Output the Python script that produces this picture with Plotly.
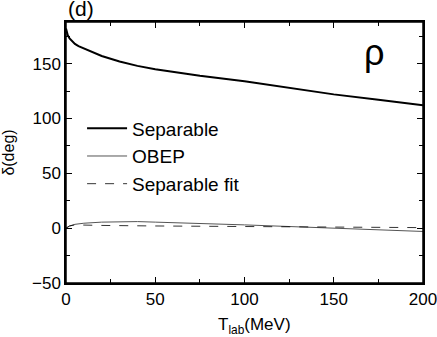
import plotly.graph_objects as go

# Separable (thick black)
t_sep = [0, 0.5, 1, 2, 3, 5, 7, 10, 15, 20, 30, 40, 50, 75, 100, 125, 150, 175, 200]
d_sep = [182, 178, 176, 173, 171, 168, 166, 164, 160, 157, 152, 148, 145, 139, 134, 128, 122, 117, 112]

# OBEP (thin gray)
t_obep = [0, 2, 5, 10, 20, 30, 40, 50, 75, 100, 125, 150, 175, 200]
d_obep = [0, 2, 3.5, 4.5, 5.5, 6, 6, 5.5, 4.5, 3, 1.5, 0, -1.5, -3]

# Separable fit (dashed)
t_fit = [0, 2, 5, 10, 20, 50, 100, 150, 200]
d_fit = [0, 2, 3, 3, 2.5, 2, 1.5, 1, 0.5]

fig = go.Figure()
fig.add_trace(go.Scatter(x=t_sep, y=d_sep, mode="lines", name="Separable",
                         line=dict(color="black", width=2)))
fig.add_trace(go.Scatter(x=t_obep, y=d_obep, mode="lines", name="OBEP",
                         line=dict(color="#555555", width=1)))
fig.add_trace(go.Scatter(x=t_fit, y=d_fit, mode="lines", name="Separable fit",
                         line=dict(color="black", width=0.8, dash="dash")))

axis_common = dict(
    showline=True, linecolor="black", linewidth=1.5, mirror="ticks",
    ticks="inside", ticklen=6, tickwidth=1, tickcolor="black",
    showgrid=False, zeroline=False, automargin=False,
    ticklabeloverflow="allow",
    tickfont=dict(size=17, color="black"),
)

fig.update_xaxes(range=[0, 200], dtick=50,
                 minor=dict(ticks="inside", ticklen=4, dtick=25, tickcolor="black"),
                 **axis_common)
fig.update_yaxes(range=[-50, 188], dtick=50,
                 minor=dict(ticks="inside", ticklen=4, dtick=25, tickcolor="black"),
                 title=dict(text="δ(deg)", font=dict(size=16, color="black"), standoff=13),
                 **axis_common)

# frame round the plot area
fig.add_shape(type="rect", xref="paper", yref="paper", x0=0, y0=0, x1=1, y1=1,
              line=dict(color="black", width=1.5), layer="above")

# x title as annotation (sits a bit right of centre in the original)
fig.add_annotation(text="T<sub>lab</sub>(MeV)", x=0.527, y=0, xref="paper", yref="paper",
                   xanchor="center", yanchor="top", yshift=-30, showarrow=False,
                   font=dict(size=17, color="black"))
fig.add_annotation(text="(d)", x=0, y=1, xref="paper", yref="paper",
                   xanchor="left", yanchor="bottom", showarrow=False, yshift=0,
                   font=dict(size=21, color="black"))
fig.add_annotation(text="ρ", x=0.863, y=0.885, xref="paper", yref="paper",
                   xanchor="center", yanchor="middle",
                   showarrow=False, font=dict(size=36, color="black"))

fig.update_layout(
    width=437, height=337,
    margin=dict(l=66, r=14, t=22, b=54),
    paper_bgcolor="white", plot_bgcolor="white",
    font=dict(family="Liberation Sans, Arial, sans-serif", color="black"),
    showlegend=True,
    legend=dict(x=0.045, y=0.665, xanchor="left", yanchor="top",
                bgcolor="rgba(0,0,0,0)", font=dict(size=19),
                tracegroupgap=0, itemwidth=40),
)

# drop the default body margin and scrollbars so the figure fills the window exactly
page_fix = ("document.body.style.margin='0';"
            "document.body.style.overflow='hidden';"
            "document.documentElement.style.overflow='hidden';")
fig.write_html("out.html", config={"displayModeBar": False}, post_script=page_fix)
